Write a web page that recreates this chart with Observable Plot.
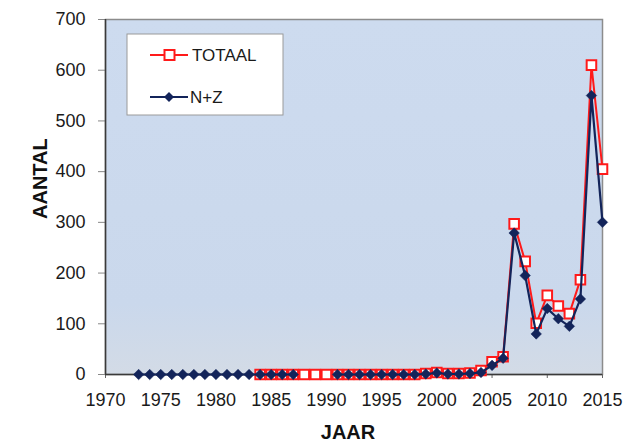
<!DOCTYPE html>
<html>
<head>
<meta charset="utf-8">
<script src="https://cdn.jsdelivr.net/npm/d3@7"></script>
<script src="https://cdn.jsdelivr.net/npm/@observablehq/plot@0.6"></script>
<style>
  html, body { margin: 0; padding: 0; background: #fff; }
  #chart { position: relative; width: 625px; height: 448px; }
  svg { font-family: "Liberation Sans", Arial, sans-serif; }
</style>
</head>
<body>
<div id="chart"></div>
<script>
// ---- data ----
const totaalYears = d3.range(1984, 2016);
const totaalValues = [
  0, 0, 0, 0, 0, 0, 0,          // 1984-1990
  0, 0, 0, 0, 0, 0, 0, 0, 2,    // 1991-1999
  4, 2, 2, 3, 8,                // 2000-2004
  25, 35, 297, 223, 101,        // 2005-2009
  156, 135, 120, 187, 610, 405  // 2010-2015
];
const nzYears = d3.range(1973, 2016);
const nzValues = [
  0, 0, 0, 0, 0, 0, 0,          // 1973-1979
  0, 0, 0, 0, 0, 0, 0, 0,       // 1980-1987
  null, null, null,             // 1988-1990
  0, 0, 0, 0, 0, 0, 0, 0, 1,    // 1991-1999
  3, 1, 1, 2, 4,                // 2000-2004
  18, 32, 279, 195, 80,         // 2005-2009
  130, 110, 95, 149, 550, 300   // 2010-2015
];
const xTicks = [1970, 1975, 1980, 1985, 1990, 1995, 2000, 2005, 2010, 2015];
const yTicks = [0, 100, 200, 300, 400, 500, 600, 700];
const seriesNames = ["TOTAAL", "N+Z"];
const xTitle = "JAAR";
const yTitle = "AANTAL";

const totaal = totaalYears.map((y, i) => ({year: y, value: totaalValues[i]}));
const nz = nzYears.map((y, i) => ({year: y, value: nzValues[i]}));

const RED = "#ff1a1a";
const NAVY = "#13245a";

const diamond = {
  draw(ctx, size) {
    const r = Math.sqrt(size / 2);
    ctx.moveTo(0, -r); ctx.lineTo(r, 0); ctx.lineTo(0, r); ctx.lineTo(-r, 0); ctx.closePath();
  }
};

const chart = Plot.plot({
  width: 625,
  height: 448,
  marginLeft: 105,
  marginRight: 23,
  marginTop: 19,
  marginBottom: 74,
  style: {fontFamily: "Liberation Sans, Arial, sans-serif", background: "#fff", color: "#1a1a1a"},
  x: {domain: [1970, 2015]},
  y: {domain: [0, 700]},
  marks: [
    Plot.frame({fill: "url(#bggrad)", stroke: "#8c8c8c", strokeWidth: 1.5}),
    Plot.axisY({ticks: yTicks, tickSize: 7, tickPadding: 13, fontSize: 18, label: null, stroke: "#888"}),
    Plot.axisX({ticks: xTicks, tickFormat: d => String(d), tickSize: 4, tickPadding: 15, fontSize: 18, label: null, stroke: "#666"}),
    Plot.ruleX([1970], {stroke: "#3a3a3a", strokeWidth: 1.5}),
    Plot.ruleY([0], {stroke: "#3a3a3a", strokeWidth: 1.5}),
    Plot.line(totaal, {x: "year", y: "value", stroke: RED, strokeWidth: 2}),
    Plot.dot(totaal, {x: "year", y: "value", symbol: "square", r: 5.4, fill: "#fff", stroke: RED, strokeWidth: 2}),
    Plot.line(nz, {x: "year", y: "value", stroke: NAVY, strokeWidth: 2.2}),
    Plot.dot(nz.filter(d => d.value != null), {x: "year", y: "value", symbol: diamond, r: 4.2, fill: NAVY, stroke: NAVY, strokeWidth: 0.5}),
    Plot.text([yTitle], {frameAnchor: "left", dx: -65, dy: 22, rotate: -90, fontSize: 20, fontWeight: "bold", fill: "#111"}),
    Plot.text([xTitle], {frameAnchor: "bottom", dx: -6, dy: 64, fontSize: 20, fontWeight: "bold", fill: "#111"})
  ]
});

document.getElementById("chart").appendChild(chart);

// gradient background + legend
const svg = d3.select(chart.tagName.toLowerCase() === "svg" ? chart : chart.querySelector("svg"));
const defs = svg.insert("defs", ":first-child");
const grad = defs.append("linearGradient").attr("id", "bggrad").attr("x1", 0).attr("y1", 0).attr("x2", 0).attr("y2", 1);
grad.append("stop").attr("offset", "0%").attr("stop-color", "#cddbef");
grad.append("stop").attr("offset", "80%").attr("stop-color", "#cad8ec");
grad.append("stop").attr("offset", "100%").attr("stop-color", "#d3dbe6");

const lg = svg.append("g").attr("class", "legend").attr("text-anchor", "start");
lg.append("rect").attr("x", 127).attr("y", 34).attr("width", 156).attr("height", 81)
  .attr("fill", "#fff").attr("stroke", "#9a9a9a").attr("stroke-width", 1);
// TOTAAL
lg.append("line").attr("x1", 150).attr("x2", 188).attr("y1", 55).attr("y2", 55).attr("stroke", RED).attr("stroke-width", 2);
lg.append("rect").attr("x", 164.5).attr("y", 50).attr("width", 10).attr("height", 10).attr("fill", "#fff").attr("stroke", RED).attr("stroke-width", 2);
lg.append("text").attr("x", 192).attr("y", 61).attr("font-size", 17).attr("text-anchor", "start").attr("fill", "#1a1a1a").text(seriesNames[0]);
// N+Z
lg.append("line").attr("x1", 150).attr("x2", 188).attr("y1", 97).attr("y2", 97).attr("stroke", NAVY).attr("stroke-width", 2);
lg.append("path").attr("d", "M169,92L174,97L169,102L164,97Z").attr("fill", NAVY);
lg.append("text").attr("x", 190).attr("y", 103).attr("font-size", 17).attr("text-anchor", "start").attr("fill", "#1a1a1a").text(seriesNames[1]);
</script>
</body>
</html>
